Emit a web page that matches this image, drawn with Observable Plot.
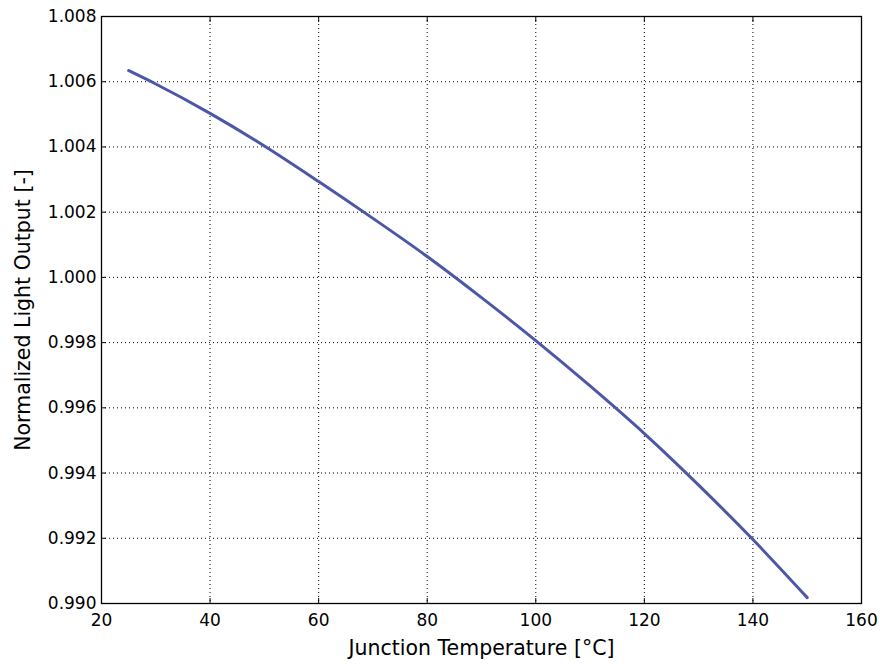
<!DOCTYPE html>
<html>
<head>
<meta charset="utf-8">
<script src="https://cdn.jsdelivr.net/npm/d3@7"></script>
<script src="https://cdn.jsdelivr.net/npm/@observablehq/plot@0.6"></script>
<style>
  html, body { margin: 0; padding: 0; background: #fff; }
  #chart { width: 883px; height: 665px; }
  svg { font-family: "DejaVu Sans", sans-serif; }
</style>
</head>
<body>
<div id="chart"></div>
<script>
const temperature = [25, 30, 40, 50, 60, 70, 80, 90, 100, 110, 120, 130, 140, 150];
const lightOutput = [1.00634, 1.00593, 1.00503, 1.00403, 1.00294, 1.00181, 1.00064, 0.99938, 0.99806, 0.99667, 0.99521, 0.99363, 0.99196, 0.99018];
const xTicks = [20, 40, 60, 80, 100, 120, 140, 160];
const yTicks = [0.990, 0.992, 0.994, 0.996, 0.998, 1.000, 1.002, 1.004, 1.006, 1.008];
const xLabel = "Junction Temperature [°C]";
const yLabel = "Normalized Light Output [-]";

const data = temperature.map((t, i) => ({t, v: lightOutput[i]}));
const fmtY = d3.format(".3f");

const plot = Plot.plot({
  width: 883,
  height: 665,
  marginLeft: 101,
  marginRight: 22,
  marginTop: 16,
  marginBottom: 62,
  style: {fontFamily: "DejaVu Sans, sans-serif", fontSize: "17px", color: "black", background: "white"},
  x: {domain: [20, 160], ticks: xTicks},
  y: {domain: [0.990, 1.008], ticks: yTicks},
  marks: [
    Plot.gridX(xTicks, {stroke: "black", strokeOpacity: 1, strokeWidth: 1, strokeDasharray: "1,3"}),
    Plot.gridY(yTicks, {stroke: "black", strokeOpacity: 1, strokeWidth: 1, strokeDasharray: "1,3"}),
    Plot.axisX(xTicks, {anchor: "bottom", tickSize: -5, tickPadding: 15, label: null, fontSize: 17, tickFormat: d => d}),
    Plot.axisX(xTicks, {anchor: "top", tickSize: -5, tickFormat: () => "", label: null}),
    Plot.axisY(yTicks, {anchor: "left", tickSize: -5, tickPadding: 10, label: null, fontSize: 17, tickFormat: fmtY}),
    Plot.axisY(yTicks, {anchor: "right", tickSize: -5, tickFormat: () => "", label: null}),
    Plot.line(data, {x: "t", y: "v", stroke: "#4d57a8", strokeWidth: 3, curve: "monotone-x"}),
    Plot.frame({stroke: "black", strokeWidth: 1.3}),
    Plot.text([xLabel], {frameAnchor: "bottom", dy: 51, fontSize: 20.5, fill: "black", textAnchor: "middle"}),
    Plot.text([yLabel], {frameAnchor: "left", dx: -78, rotate: -90, fontSize: 20.5, fill: "black", textAnchor: "middle"})
  ]
});
document.getElementById("chart").appendChild(plot);
</script>
</body>
</html>
